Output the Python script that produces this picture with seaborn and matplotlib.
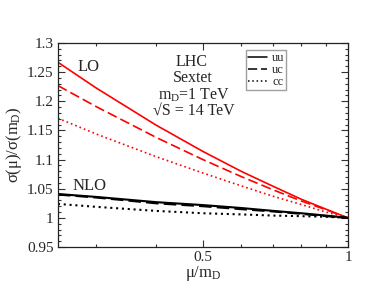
import matplotlib
matplotlib.use("Agg")
import matplotlib.pyplot as plt
from matplotlib import ticker
from matplotlib.lines import Line2D
import seaborn as sns
import pandas as pd
import numpy as np

""" 0. Data (read off the reference) """
mu = [0.25, 0.3, 0.4, 0.5, 0.6, 0.7, 0.8, 0.9, 1.0]
channels = ["uu", "uc", "cc"]

lo_uu = [1.267, 1.223, 1.159, 1.114, 1.080, 1.054, 1.032, 1.015, 1.0]
lo_uc = [1.227, 1.191, 1.138, 1.100, 1.071, 1.048, 1.029, 1.014, 1.0]
lo_cc = [1.171, 1.144, 1.105, 1.077, 1.055, 1.037, 1.023, 1.010, 1.0]

nlo_uu = [1.041, 1.036, 1.027, 1.022, 1.017, 1.012, 1.008, 1.004, 1.0]
nlo_uc = [1.040, 1.035, 1.025, 1.020, 1.015, 1.011, 1.007, 1.003, 1.0]
nlo_cc = [1.024, 1.019, 1.012, 1.008, 1.006, 1.004, 1.003, 1.002, 1.0]

y_ticks = [0.95, 1.0, 1.05, 1.1, 1.15, 1.2, 1.25, 1.3]
x_ticks = [0.5, 1.0]

rows = []
for order, series in [("LO", [lo_uu, lo_uc, lo_cc]), ("NLO", [nlo_uu, nlo_uc, nlo_cc])]:
    for ch, vals in zip(channels, series):
        for m, v in zip(mu, vals):
            rows.append({"order": order, "channel": ch, "mu": m, "ratio": v})
df = pd.DataFrame(rows)

""" 1. Plot """
sns.set_style("ticks")
plt.rcParams['font.family'] = ['Liberation Serif', 'DejaVu Serif']
plt.rcParams['mathtext.fontset'] = 'custom'
plt.rcParams['mathtext.rm'] = 'Liberation Serif'
plt.rcParams['mathtext.it'] = 'Liberation Serif'

dash_map = {"uu": "", "uc": (6, 2.5), "cc": (1, 1.8)}

fig = plt.figure(figsize=(3.76, 2.91), dpi=100)
ax = fig.add_axes([0.154, 0.151, 0.7715, 0.7012])

sns.lineplot(data=df[df.order == "LO"], x="mu", y="ratio", style="channel", dashes=dash_map,
             color="red", linewidth=1.2, legend=False, ax=ax)
sns.lineplot(data=df[df.order == "NLO"], x="mu", y="ratio", style="channel", dashes=dash_map,
             color="black", linewidth=1.5, legend=False, ax=ax)

ax.set_xscale("log")
ax.set_xlim(0.25, 1.0)
ax.set_ylim(0.95, 1.3)
ax.xaxis.set_major_locator(ticker.FixedLocator(x_ticks))
ax.xaxis.set_major_formatter(ticker.FuncFormatter(lambda v, p: "%g" % v))
ax.xaxis.set_minor_locator(ticker.FixedLocator([0.3, 0.4, 0.6, 0.7, 0.8, 0.9]))
ax.xaxis.set_minor_formatter(ticker.NullFormatter())
ax.yaxis.set_major_locator(ticker.FixedLocator(y_ticks))
ax.yaxis.set_major_formatter(ticker.FuncFormatter(lambda v, p: "%g" % round(v, 2)))
ax.yaxis.set_minor_locator(ticker.MultipleLocator(0.01))

ax.tick_params(which='both', direction='in', top=True, right=True, labelsize=11, width=0.8, color="#333333")
ax.tick_params(which='major', length=5, pad=3)
ax.tick_params(which='minor', length=2.5)
for s in ax.spines.values():
    s.set_linewidth(0.9)
    s.set_color("#222222")

ax.set_xlabel(r"$\mu/m_D$", fontsize=12, labelpad=0)
ax.set_ylabel(r"$\sigma(\mu)/\sigma(m_D)$", fontsize=12, labelpad=2)

ax.text(0.068, 0.882, "LO", transform=ax.transAxes, fontsize=12, va="center")
ax.text(0.05, 0.299, "NLO", transform=ax.transAxes, fontsize=12, va="center")
ax.text(0.462, 0.907, "LHC", transform=ax.transAxes, fontsize=11.5, ha="center", va="center")
ax.text(0.464, 0.828, "Sextet", transform=ax.transAxes, fontsize=11.5, ha="center", va="center")
ax.text(0.47, 0.745, r"$m_D$=1 TeV", transform=ax.transAxes, fontsize=11.5, ha="center", va="center")
ax.text(0.47, 0.667, "\u221aS = 14 TeV", transform=ax.transAxes, fontsize=11.5, ha="center", va="center")

handles = [Line2D([0], [0], color="black", lw=1.1, linestyle="-"),
           Line2D([0], [0], color="black", lw=1.1, dashes=dash_map["uc"]),
           Line2D([0], [0], color="black", lw=1.1, dashes=dash_map["cc"])]
leg = ax.legend(handles, channels, loc="upper left", bbox_to_anchor=(0.65, 0.965), fontsize=9,
                frameon=True, fancybox=False, edgecolor="#888888", handlelength=1.5, handletextpad=0.4,
                labelspacing=0.0, borderpad=0.15, borderaxespad=0)
leg.get_frame().set_linewidth(1.0)

plt.savefig("out.png", dpi=100)
